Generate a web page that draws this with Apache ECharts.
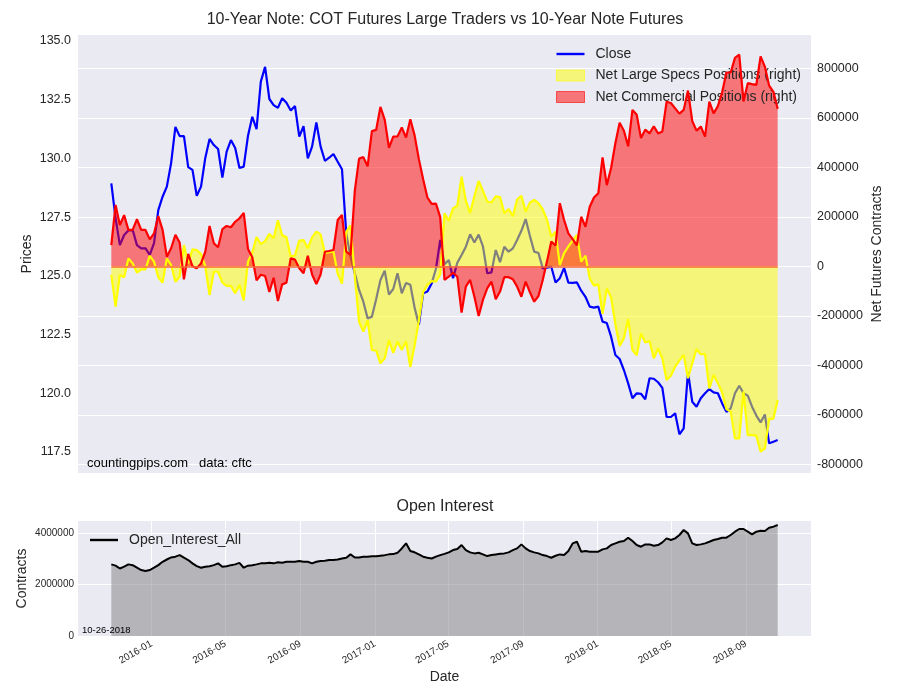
<!DOCTYPE html>
<html><head><meta charset="utf-8">
<script src="https://cdn.jsdelivr.net/npm/echarts@6/dist/echarts.min.js"></script>
<style>html,body{margin:0;padding:0;background:#fff}#c{width:900px;height:700px}</style>
</head><body><div id="c"></div>
<script>
// ---- data ----
const firstReportDate = '2015-10-27'; // weekly COT report dates (Tuesdays)
const closePrices = [
128.94,127.45,126.31,126.74,126.93,126.95,126.31,126.17,126.17,125.89,
126.39,127.80,128.37,128.80,129.80,131.34,130.95,130.95,129.63,129.51,
128.41,128.80,130.02,130.83,130.57,130.40,129.18,130.29,130.78,130.44,
129.59,129.65,130.97,131.77,131.25,133.27,133.90,132.53,132.27,132.15,
132.56,132.37,132.04,132.23,130.93,131.37,130.00,130.50,131.53,130.50,
129.90,130.03,130.19,129.86,129.54,126.80,125.82,125.11,124.40,123.90,
123.19,123.26,124.00,124.82,125.22,124.20,124.44,125.11,124.26,124.70,
124.62,123.65,122.91,124.26,124.33,124.68,125.30,126.53,125.50,125.67,
124.90,125.56,125.89,126.24,126.77,126.42,126.76,126.26,125.11,125.15,
126.10,125.58,126.24,126.03,126.17,126.53,126.92,127.42,126.70,126.03,
125.97,125.32,125.35,125.39,124.72,124.90,125.34,124.71,124.70,124.72,
124.37,124.11,123.69,123.65,123.69,123.05,122.99,122.41,121.63,121.46,
120.99,120.42,119.79,120.00,119.98,119.74,120.64,120.62,120.47,120.23,
118.99,118.99,119.15,118.25,118.51,120.90,119.64,119.43,119.79,120.00,
120.18,120.04,120.00,119.57,119.21,119.36,120.00,120.32,120.00,119.90,
119.43,119.05,118.76,119.10,117.87,117.94,118.01];
const netLargeSpecs = [
-35000,-163000,-35000,-44000,32000,12000,-26000,-12000,-12000,42000,
19000,-44000,-66000,32000,5000,-62000,-42000,86000,12000,69000,
66000,50000,0,-116000,-22000,-22000,-66000,-79000,-79000,-109000,
-75000,-138000,19000,56000,118000,90000,102000,131000,113000,186000,
125000,118000,39000,44000,104000,106000,73000,117000,140000,129000,
53000,57000,60000,-30000,-70000,140000,165000,-40000,-224000,-264000,
-218000,-338000,-341000,-392000,-372000,-298000,-350000,-304000,-338000,-303000,
-407000,-320000,-220000,-105000,-75000,-60000,-62000,-32000,214000,184000,
234000,245000,362000,265000,215000,284000,345000,305000,262000,258000,
283000,280000,214000,232000,202000,270000,285000,221000,258000,268000,
255000,230000,188000,120000,140000,5000,53000,80000,104000,127000,
19000,43000,-49000,-78000,-73000,-192000,-89000,-126000,-234000,-322000,
-291000,-213000,-338000,-359000,-271000,-308000,-302000,-372000,-332000,-372000,
-459000,-442000,-405000,-380000,-358000,-452000,-392000,-335000,-355000,-355000,
-493000,-439000,-472000,-510000,-577000,-587000,-695000,-695000,-505000,-682000,
-682000,-684000,-749000,-736000,-617000,-615000,-540000];
const netCommercials = [
86000,248000,167000,207000,147000,147000,190000,147000,147000,109000,
133000,203000,147000,39000,73000,127000,96000,-53000,50000,0,
-8000,12000,59000,163000,93000,77000,150000,163000,158000,180000,
194000,216000,70000,37000,-57000,-34000,-39000,-104000,-46000,-140000,
-73000,-66000,32000,27000,-8000,-28000,43000,-33000,-72000,-33000,
59000,62000,66000,187000,208000,59000,46000,305000,435000,441000,
404000,546000,551000,644000,593000,479000,524000,525000,561000,520000,
594000,529000,433000,352000,278000,252000,253000,199000,-55000,-42000,
-26000,-42000,-187000,-82000,-55000,-123000,-201000,-136000,-89000,-62000,
-133000,-102000,-44000,-44000,-52000,-82000,-123000,-62000,-105000,-143000,
-120000,-55000,20000,100000,84000,255000,187000,133000,110000,85000,
200000,160000,241000,278000,295000,440000,328000,397000,497000,580000,
548000,485000,632000,612000,518000,552000,537000,566000,537000,545000,
665000,660000,638000,617000,632000,710000,587000,548000,565000,524000,
665000,618000,647000,703000,783000,783000,842000,855000,666000,740000,
736000,733000,848000,807000,730000,705000,636000];
const openInterest = [
2790000,2740000,2630000,2700000,2790000,2760000,2660000,2570000,2530000,2570000,
2660000,2760000,2890000,2980000,3060000,3090000,3150000,3050000,2960000,2830000,
2720000,2660000,2700000,2720000,2760000,2830000,2700000,2720000,2760000,2790000,
2850000,2660000,2740000,2760000,2790000,2830000,2830000,2850000,2830000,2870000,
2850000,2890000,2890000,2890000,2920000,2890000,2890000,2830000,2890000,2920000,
2930000,2960000,2960000,2980000,3020000,3050000,3180000,3060000,3060000,3090000,
3090000,3110000,3110000,3130000,3150000,3180000,3190000,3240000,3410000,3610000,
3310000,3260000,3180000,3090000,3050000,3020000,3090000,3150000,3200000,3257000,
3348000,3387000,3543000,3348000,3257000,3218000,3244000,3179000,3113000,3153000,
3179000,3205000,3218000,3257000,3348000,3413000,3569000,3413000,3309000,3257000,
3218000,3153000,3113000,3048000,3126000,3179000,3153000,3309000,3608000,3673000,
3283000,3309000,3283000,3283000,3283000,3374000,3413000,3543000,3608000,3673000,
3699000,3830000,3699000,3543000,3478000,3569000,3569000,3517000,3543000,3647000,
3804000,3739000,3804000,3934000,4129000,3999000,3608000,3543000,3569000,3608000,
3673000,3739000,3778000,3830000,3830000,3934000,4064000,4168000,4168000,4064000,
3960000,4064000,4103000,4090000,4220000,4259000,4324000];
const priceTicks = [117.5,120.0,122.5,125.0,127.5,130.0,132.5,135.0];
const netTicks = [-800000,-600000,-400000,-200000,0,200000,400000,600000,800000];
const oiTicks = [0,2000000,4000000];
const dateTickLabels = ['2016-01','2016-05','2016-09','2017-01','2017-05','2017-09','2018-01','2018-05','2018-09'];

// ---- build ----
const DAY = 86400000;
const t0 = Date.parse(firstReportDate + 'T00:00:00Z');
const dates = closePrices.map((_, i) => t0 + i * 7 * DAY);
const tLast = dates[dates.length - 1];
const pad = (tLast - t0) * 0.05;
const xMin = t0 - pad, xMax = tLast + pad;
const dateTicks = dateTickLabels.map(s => Date.parse(s + '-01T00:00:00Z'));
const pairs = arr => arr.map((v, i) => [dates[i], v]);
const fmtDate = v => { const d = new Date(v); return d.getUTCFullYear() + '-' + String(d.getUTCMonth() + 1).padStart(2, '0'); };
const plain = v => String(Math.round(v));

const FONT = '"Liberation Sans", Arial, sans-serif';
const TXT = '#262626';
const BG = '#EAEAF2';
const lineIcon = 'path://M0,0L28,0L28,2.4L0,2.4Z';

const chart = echarts.init(document.getElementById('c'), null, {renderer: 'canvas'});
chart.setOption({
  animation: false,
  backgroundColor: '#ffffff',
  textStyle: {fontFamily: FONT, color: TXT},
  grid: [
    {left: 78, top: 35, width: 733, height: 438, show: true, backgroundColor: BG, borderWidth: 0, containLabel: false, outerBoundsMode: 'none'},
    {left: 78, top: 521, width: 733, height: 115, show: true, backgroundColor: BG, borderWidth: 0, containLabel: false, outerBoundsMode: 'none'}
  ],
  xAxis: [
    {gridIndex: 0, type: 'value', min: xMin, max: xMax, axisLabel: {show: false}, axisTick: {show: false}, axisLine: {show: false}, splitLine: {show: false}},
    {gridIndex: 1, type: 'value', min: xMin, max: xMax,
      axisLabel: {customValues: dateTicks, formatter: fmtDate, rotate: 30, fontSize: 10, color: TXT, margin: 7, fontFamily: FONT},
      axisTick: {show: false, customValues: dateTicks},
      axisLine: {show: false},
      splitLine: {show: true, lineStyle: {color: '#ffffff', width: 1}},
      name: 'Date', nameLocation: 'middle', nameGap: 34, nameMoveOverlap: false,
      nameTextStyle: {fontSize: 14, color: TXT, fontFamily: FONT}}
  ],
  yAxis: [
    {gridIndex: 0, type: 'value', position: 'left', min: 116.606, max: 135.255,
      axisLabel: {customValues: priceTicks, formatter: v => v.toFixed(1), fontSize: 12.5, color: TXT, margin: 7, fontFamily: FONT},
      axisTick: {show: false, customValues: priceTicks}, axisLine: {show: false}, splitLine: {show: false},
      name: 'Prices', nameLocation: 'middle', nameGap: 44, nameMoveOverlap: false,
      nameTextStyle: {fontSize: 14, color: TXT, fontFamily: FONT}},
    {gridIndex: 0, type: 'value', position: 'right', min: -835000, max: 934500,
      axisLabel: {customValues: netTicks, formatter: plain, fontSize: 12.5, color: TXT, margin: 6, fontFamily: FONT},
      axisTick: {show: false, customValues: netTicks}, axisLine: {show: false},
      splitLine: {show: true, lineStyle: {color: '#ffffff', width: 1.2}},
      name: 'Net Futures Contracts', nameLocation: 'middle', nameGap: 59, nameMoveOverlap: false,
      nameTextStyle: {fontSize: 14, color: TXT, fontFamily: FONT}},
    {gridIndex: 1, type: 'value', min: 0, max: 4480000,
      axisLabel: {customValues: oiTicks, formatter: plain, fontSize: 10, color: TXT, margin: 4, fontFamily: FONT},
      axisTick: {show: false, customValues: oiTicks}, axisLine: {show: false},
      splitLine: {show: true, lineStyle: {color: '#ffffff', width: 1.2}},
      name: 'Contracts', nameLocation: 'middle', nameGap: 49, nameMoveOverlap: false,
      nameTextStyle: {fontSize: 14, color: TXT, fontFamily: FONT}}
  ],
  legend: [
    {orient: 'vertical', left: 556, top: 47, padding: 0, itemWidth: 28, itemHeight: 11, itemGap: 7.5,
      textStyle: {fontSize: 14, color: TXT, fontFamily: FONT, padding: [0, 0, 0, 6]},
      data: [
        {name: 'Close', icon: lineIcon, itemStyle: {color: '#0000FF', borderWidth: 0}},
        {name: 'Net Large Specs Positions (right)', icon: 'rect', itemStyle: {color: 'rgba(255,255,0,0.5)', borderColor: 'rgba(255,255,0,0.6)', borderWidth: 1}},
        {name: 'Net Commercial Positions (right)', icon: 'rect', itemStyle: {color: 'rgba(255,0,0,0.5)', borderColor: 'rgba(255,0,0,0.6)', borderWidth: 1}}
      ]},
    {orient: 'vertical', left: 90, top: 533, padding: 0, itemWidth: 28, itemHeight: 11,
      textStyle: {fontSize: 14, color: TXT, fontFamily: FONT, padding: [0, 0, 0, 6]},
      data: [{name: 'Open_Interest_All', icon: lineIcon, itemStyle: {color: '#000000', borderWidth: 0}}]}
  ],
  graphic: [
    {type: 'text', x: 445, y: 20, style: {text: '10-Year Note: COT Futures Large Traders vs 10-Year Note Futures', fontSize: 16, fontFamily: FONT, fill: TXT, textAlign: 'center', textVerticalAlign: 'middle'}},
    {type: 'text', x: 445, y: 507, style: {text: 'Open Interest', fontSize: 16, fontFamily: FONT, fill: TXT, textAlign: 'center', textVerticalAlign: 'middle'}},
    {type: 'text', x: 87, y: 463, style: {text: 'countingpips.com', fontSize: 13, fontFamily: FONT, fill: '#000', textAlign: 'left', textVerticalAlign: 'middle'}, z: 100},
    {type: 'text', x: 199, y: 463, style: {text: 'data: cftc', fontSize: 13, fontFamily: FONT, fill: '#000', textAlign: 'left', textVerticalAlign: 'middle'}, z: 100},
    {type: 'text', x: 82, y: 630, style: {text: '10-26-2018', fontSize: 9.5, fontFamily: FONT, fill: '#000', textAlign: 'left', textVerticalAlign: 'middle'}, z: 100}
  ],
  series: [
    {name: 'Close', type: 'line', xAxisIndex: 0, yAxisIndex: 0, data: pairs(closePrices), symbol: 'none', z: 2,
      lineStyle: {color: '#0000FF', width: 2.2}, itemStyle: {color: '#0000FF'}},
    {name: 'Net Large Specs Positions (right)', type: 'line', xAxisIndex: 0, yAxisIndex: 1, data: pairs(netLargeSpecs), symbol: 'none', z: 3,
      lineStyle: {width: 0}, itemStyle: {color: '#FFFF00'}, areaStyle: {color: '#FFFF00', opacity: 0.5, origin: 0}},
    {name: 'Net Commercial Positions (right)', type: 'line', xAxisIndex: 0, yAxisIndex: 1, data: pairs(netCommercials), symbol: 'none', z: 3,
      lineStyle: {width: 0}, itemStyle: {color: '#FF0000'}, areaStyle: {color: '#FF0000', opacity: 0.5, origin: 0},
      markLine: {silent: true, symbol: 'none', label: {show: false},
        lineStyle: {color: '#F86A3A', width: 1.5, type: 'solid'},
        data: [[{coord: [dates[0], 0]}, {coord: [tLast, 0]}]]}},
    {name: 'specsLine', type: 'line', xAxisIndex: 0, yAxisIndex: 1, data: pairs(netLargeSpecs), symbol: 'none', z: 4, silent: true,
      lineStyle: {color: '#FFFF00', width: 2.2}},
    {name: 'commLine', type: 'line', xAxisIndex: 0, yAxisIndex: 1, data: pairs(netCommercials), symbol: 'none', z: 4, silent: true,
      lineStyle: {color: '#FF0000', width: 2.2}},
    {name: 'Open_Interest_All', type: 'line', xAxisIndex: 1, yAxisIndex: 2, data: pairs(openInterest), symbol: 'none', z: 3,
      lineStyle: {color: '#000000', width: 2}, itemStyle: {color: '#000000'}, areaStyle: {color: '#808080', opacity: 0.5, origin: 0}}
  ]
});
</script>
</body></html>
